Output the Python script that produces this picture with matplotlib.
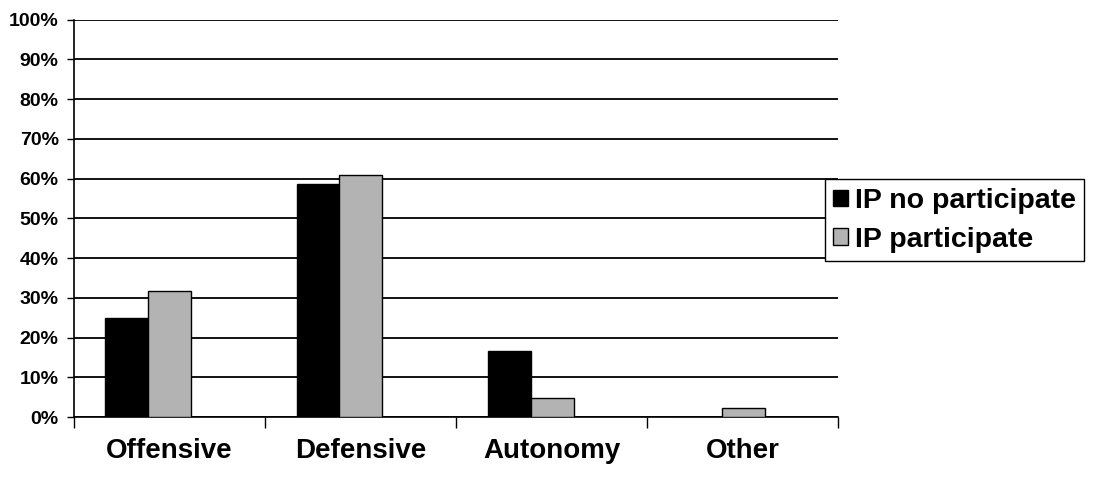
import numpy as np
import matplotlib
matplotlib.use("Agg")
import matplotlib.pyplot as plt

# データ
categories = ["Offensive", "Defensive", "Autonomy", "Other"]
ip_no_participate = [25.0, 58.5, 16.7, 0.0]
ip_participate = [31.8, 60.8, 4.8, 2.3]
series_names = ["IP no participate", "IP participate"]
yticks = [0, 10, 20, 30, 40, 50, 60, 70, 80, 90, 100]

plt.rcParams["font.family"] = ["Liberation Sans", "DejaVu Sans"]
plt.rcParams["font.weight"] = "bold"

fig = plt.figure(figsize=(10.94, 4.83), dpi=100)
ax = fig.add_axes([0.0676, 0.1366, 0.6985, 0.823])

x = np.arange(len(categories))
w = 0.225
ax.bar(x + 0.165, ip_no_participate, width=w, align="edge",
       color="black", edgecolor="black", linewidth=1, label=series_names[0], zorder=3)
ax.bar(x + 0.39, ip_participate, width=w, align="edge",
       color="#b3b3b3", edgecolor="black", linewidth=1, label=series_names[1], zorder=3)

ax.set_xlim(0, len(categories))
ax.set_ylim(0, 100)
ax.set_yticks(yticks)
ax.set_yticklabels([f"{t}%" for t in yticks], fontsize=14, fontweight="bold")
ax.yaxis.grid(True, color="black", linewidth=1.3, zorder=0)
ax.set_axisbelow(True)

# カテゴリ境界の目盛り
ax.set_xticks(np.arange(len(categories) + 1))
ax.set_xticklabels([])
ax.set_xticks(x + 0.5, minor=True)
ax.set_xticklabels(categories, minor=True, fontsize=20, fontweight="bold")
ax.tick_params(axis="x", which="major", direction="out", length=8, width=1)
ax.tick_params(axis="x", which="minor", length=0, pad=15)
ax.tick_params(axis="y", direction="out", length=5, width=1, pad=6)

for s in ["top", "right"]:
    ax.spines[s].set_visible(False)
ax.spines["left"].set_linewidth(1.2)
ax.spines["bottom"].set_linewidth(1.2)

leg = fig.legend(loc="upper left", bbox_to_anchor=(0.754, 0.629), borderaxespad=0,
                 prop={"weight": "bold", "size": 20.5},
                 handlelength=0.5, handleheight=0.5, handletextpad=0.25,
                 labelspacing=0.45, borderpad=0.3, fancybox=False, framealpha=1)
leg.get_frame().set_edgecolor("black")
leg.get_frame().set_linewidth(1)

plt.savefig("out.png", dpi=100)
